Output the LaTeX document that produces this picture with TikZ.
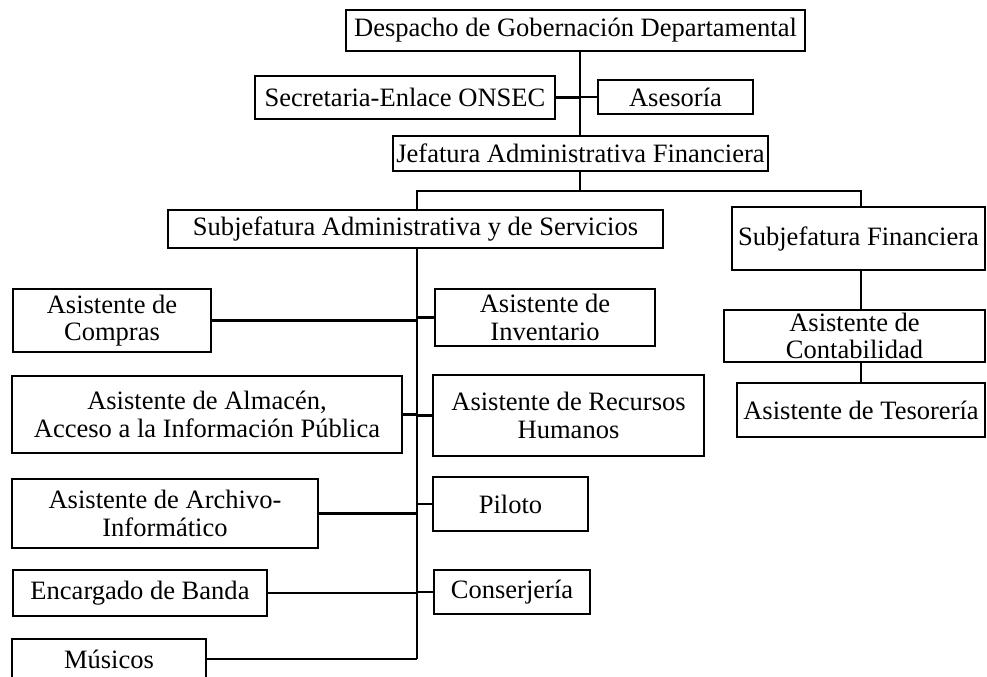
\documentclass[tikz,border=0pt]{standalone}
\usepackage{fontspec}
\setmainfont{Liberation Serif}
\newcommand\orgbox[6]{\node[box, minimum width={(#4-#2)*0.75pt}, minimum height={(#5-#3)*0.75pt}] (#1) at ({(#2+#4)/2},{(#3+#5)/2}) {#6};}
\begin{document}
\begin{tikzpicture}[x=0.75pt,y=-0.75pt,
  box/.style={draw, line width=2pt, align=center, inner sep=0pt, font=\fontsize{19.9}{20.6}\selectfont},
  conn/.style={line width=1.8pt}]
\useasboundingbox (0,0) rectangle (987,676);
% top
\orgbox{desp}{346}{10}{805}{51}{Despacho de Gobernación Departamental}
\orgbox{sec}{255}{76}{555}{119}{Secretaria-Enlace ONSEC}
\orgbox{ases}{598}{80}{753}{114}{Asesoría}
\orgbox{jef}{393}{136}{768}{171}{Jefatura Administrativa Financiera}
\orgbox{subadm}{168}{210}{663}{248}{Subjefatura Administrativa y de Servicios}
\orgbox{subfin}{732}{207}{985}{270}{Subjefatura Financiera}
\orgbox{cont}{724}{310}{985}{362}{Asistente de\\Contabilidad}
\orgbox{teso}{737}{383}{985}{437}{Asistente de Tesorería}
% left column
\orgbox{compras}{13}{289}{211}{352}{Asistente de\\Compras}
\orgbox{alm}{12}{376}{402}{453}{Asistente de Almacén,\\Acceso a la Información Pública}
\orgbox{arch}{12}{479}{318}{548}{Asistente de Archivo-\\Informático}
\orgbox{enc}{13}{570}{267}{616}{Encargado de Banda}
\orgbox{mus}{12}{639}{206}{679}{Músicos}
% right column
\orgbox{inv}{435}{289}{655}{346}{Asistente de\\Inventario}
\orgbox{rrhh}{433}{375}{704}{456}{Asistente de Recursos\\Humanos}
\orgbox{pil}{433}{477}{588}{531}{Piloto}
\orgbox{cons}{434}{570}{590}{614}{Conserjería}
% coordinates
\coordinate (j) at (580,0);
\coordinate (b) at (580,191);
\coordinate (bl) at (417,191);
\coordinate (br) at (861,191);
\coordinate (t2) at (417,659);
% connectors
\draw[conn] (desp.south -| j) -- (jef.north -| j);
\draw[conn] (sec.east) -- (sec.east -| j);
\draw[conn] (ases.west) -- (ases.west -| j);
\draw[conn] (jef.south -| b) -- (b);
\draw[conn] (subadm.north -| bl) -- (bl) -- (br) -- (subfin.north -| br);
\draw[conn] (subfin.south -| br) -- (cont.north -| br);
\draw[conn] (cont.south -| br) -- (teso.north -| br);
\draw[conn] (subadm.south -| t2) -- (t2);
\draw[conn] (compras.east) -- (compras.east -| t2);
\draw[conn] (alm.east) -- (alm.east -| t2);
\draw[conn] (arch.east) -- (arch.east -| t2);
\draw[conn] (enc.east) -- (enc.east -| t2);
\draw[conn] (mus.east) -- (t2);
\draw[conn] (inv.west) -- (inv.west -| t2);
\draw[conn] (rrhh.west) -- (rrhh.west -| t2);
\draw[conn] (pil.west) -- (pil.west -| t2);
\draw[conn] (cons.west) -- (cons.west -| t2);
\end{tikzpicture}
\end{document}
